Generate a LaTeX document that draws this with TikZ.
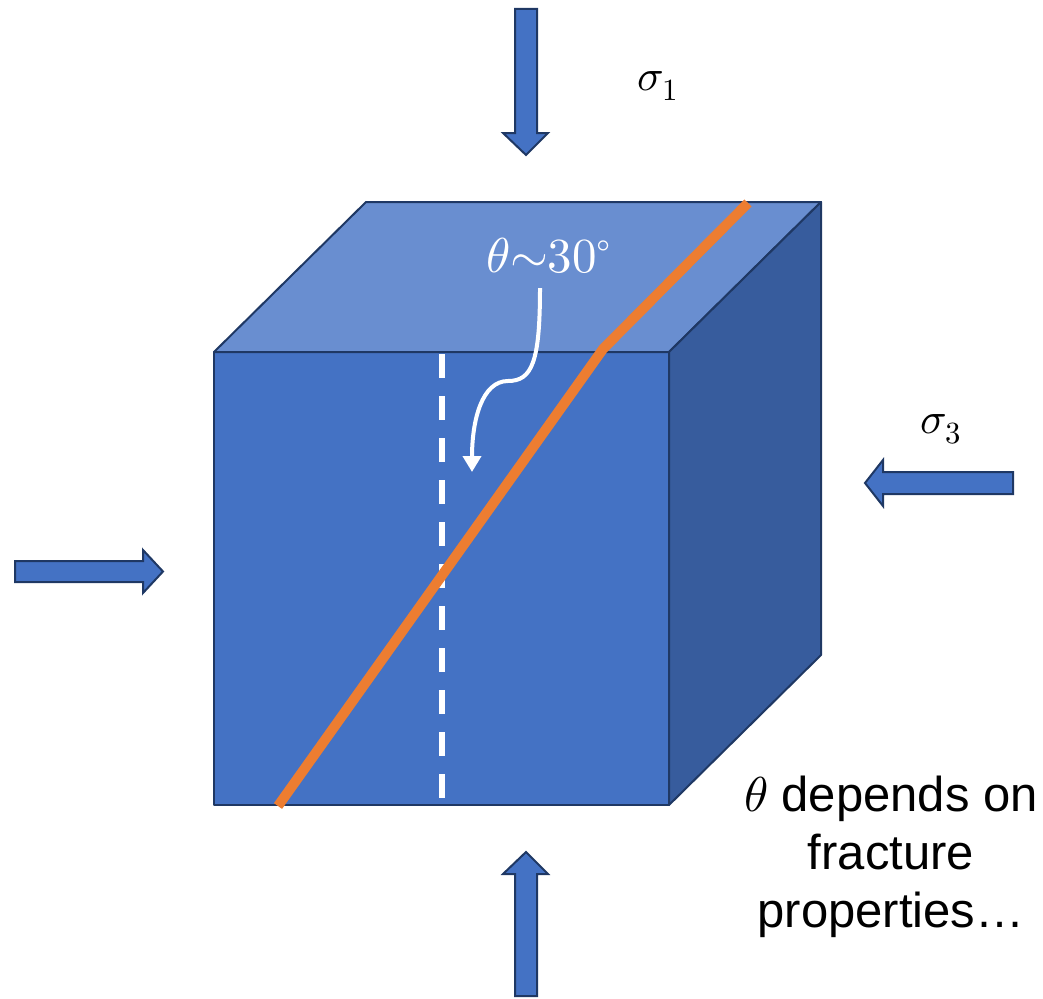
\documentclass[tikz,border=0pt]{standalone}
\usepackage{fontspec}
\usepackage{unicode-math}
\setmathfont{Latin Modern Math}
\newfontfamily\arialfont{Liberation Sans}
\usetikzlibrary{arrows.meta}
\definecolor{frontc}{HTML}{4472C4}
\definecolor{topc}{HTML}{698ED0}
\definecolor{sidec}{HTML}{375C9D}
\definecolor{edgec}{HTML}{1F3864}
\definecolor{orangec}{HTML}{ED7D31}
\tikzset{
  face/.style={draw=edgec, line width=2pt, line join=round},
  bluearrow/.style={fill=frontc, draw=edgec, line width=2pt, line join=miter},
  fracture/.style={draw=orangec, line width=10pt, line join=miter},
  refline/.style={draw=white, line width=6pt, dash pattern=on 24pt off 18pt},
  anglearrow/.style={draw=white, line width=4pt, -{Triangle[width=18pt,length=16pt]}},
  mathlabel/.style={inner sep=0pt, anchor=base},
}
\begin{document}
\begin{tikzpicture}[x=1pt,y=-1pt]
\useasboundingbox (0,0) rectangle (1043,998);
% cube
\filldraw[face, fill=frontc] (214,352) rectangle (669,805);
\filldraw[face, fill=topc] (214,352) -- (366,202) -- (821,202) -- (669,352) -- cycle;
\filldraw[face, fill=sidec] (669,352) -- (821,202) -- (821,655) -- (669,805) -- cycle;
% reference dashed line
\coordinate (dtop) at (442,354);
\coordinate (dbot) at (442,800);
\draw[refline] (dtop) -- (dbot);
% fracture plane
\coordinate (fa) at (278,806);
\coordinate (fb) at (603,349);
\coordinate (fc) at (748,203);
\draw[fracture] (fa) -- (fb) -- (fc);
% angle label and arrow
\node[mathlabel, text=white] (theta) at (549,272) {\fontsize{49}{56}\selectfont $\theta{\sim}30^{\circ}$};
\coordinate (as) at (540,288);
\coordinate (am) at (508,381);
\coordinate (ae) at (472,472);
\draw[anglearrow] (as) .. controls (540,362) and (532,381) .. (am) .. controls (482,381) and (472,420) .. (ae);
% load arrows
\filldraw[bluearrow] (515,9) -- (537,9) -- (537,133) -- (548,133) -- (526,155) -- (503,133) -- (515,133) -- cycle;
\filldraw[bluearrow] (515,996) -- (537,996) -- (537,874) -- (548,874) -- (526,852) -- (503,874) -- (515,874) -- cycle;
\filldraw[bluearrow] (15,561) -- (143,561) -- (143,550) -- (163,571.5) -- (143,593) -- (143,582) -- (15,582) -- cycle;
\filldraw[bluearrow] (1013,472) -- (883,472) -- (883,460) -- (865,483) -- (883,506) -- (883,494) -- (1013,494) -- cycle;
% stress labels
\node[mathlabel] (s1) at (658,90) {\fontsize{44}{50}\selectfont $\sigma_1$};
\node[mathlabel] (s3) at (941,433) {\fontsize{44}{50}\selectfont $\sigma_3$};
% note
\node[inner sep=0pt, align=center, font=\arialfont\fontsize{49}{58}\selectfont] (note) at (891,857) {$\theta$ depends on\\fracture\\properties…};
\end{tikzpicture}
\end{document}
